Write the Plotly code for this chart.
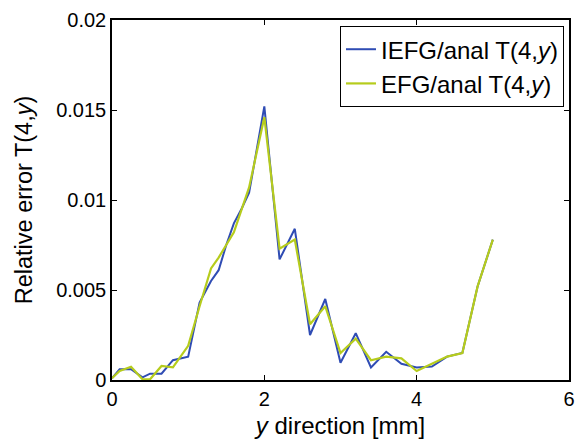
import plotly.graph_objects as go

x_iefg = [0, 0.1, 0.25, 0.4, 0.5, 0.65, 0.8, 1.0, 1.15, 1.3, 1.4, 1.5, 1.6, 1.7, 1.8, 2.0,
          2.2, 2.4, 2.6, 2.8, 3.0, 3.2, 3.4, 3.6, 3.8, 4.0, 4.2, 4.4, 4.6, 4.8, 5.0]
y_iefg = [0.0001, 0.0006, 0.0006, 0.00015, 0.00035, 0.00035, 0.0011, 0.0013, 0.0043, 0.0055,
          0.0061, 0.0075, 0.0087, 0.0095, 0.0104, 0.0152, 0.0067, 0.0084, 0.0025, 0.0045,
          0.00096, 0.0026, 0.0007, 0.00157, 0.0009, 0.0007, 0.00075, 0.0013, 0.0015, 0.0052, 0.0078]

x_efg = [0, 0.1, 0.25, 0.4, 0.5, 0.65, 0.8, 1.0, 1.15, 1.3, 1.4, 1.6, 1.8, 2.0,
         2.2, 2.4, 2.6, 2.8, 3.0, 3.2, 3.4, 3.6, 3.8, 4.0, 4.2, 4.4, 4.6, 4.8, 5.0]
y_efg = [0.0001, 0.0005, 0.00074, 0.00004, 0.00004, 0.00078, 0.0007, 0.0019, 0.0041, 0.0062,
         0.0068, 0.0082, 0.0107, 0.0146, 0.0073, 0.0078, 0.0031, 0.0041, 0.0015, 0.0023,
         0.0011, 0.0013, 0.0012, 0.0005, 0.0009, 0.0013, 0.0015, 0.0052, 0.0078]

x_ticks = [0, 2, 4, 6]
y_ticks = [0, 0.005, 0.01, 0.015, 0.02]
y_ticklabels = ["0", "0.005", "0.01", "0.015", "0.02"]

FONT = "Liberation Sans, Arial, sans-serif"

fig = go.Figure()
fig.add_trace(go.Scatter(x=x_iefg, y=y_iefg, mode="lines", name="IEFG/anal T(4,<i>y</i>)",
                         line=dict(color="#2f4cb4", width=2)))
fig.add_trace(go.Scatter(x=x_efg, y=y_efg, mode="lines", name="EFG/anal T(4,<i>y</i>)",
                         line=dict(color="#b6cc1c", width=2.2)))

axis_common = dict(showline=True, linecolor="black", linewidth=1.5, mirror="ticks",
                   ticks="inside", ticklen=5, tickwidth=1, tickcolor="black",
                   showgrid=False, zeroline=False,
                   tickfont=dict(family=FONT, size=20, color="black"))

fig.update_xaxes(range=[0, 6], tickvals=x_ticks, ticktext=[str(v) for v in x_ticks],
                 title=dict(text="<i>y</i> direction [mm]", font=dict(family=FONT, size=24, color="black"),
                            standoff=8),
                 **axis_common)
fig.update_yaxes(range=[0, 0.02], tickvals=y_ticks, ticktext=y_ticklabels,
                 title=dict(text="Relative error T(4,<i>y</i>)", font=dict(family=FONT, size=23.5, color="black"),
                            standoff=17),
                 **axis_common)

fig.update_layout(
    width=580, height=446,
    margin=dict(l=112, r=5, t=20, b=66),
    paper_bgcolor="white", plot_bgcolor="white",
    font=dict(family=FONT, color="black"),
    legend=dict(x=0.989, y=0.983, xanchor="right", yanchor="top",
                bgcolor="white", bordercolor="black", borderwidth=1,
                font=dict(family=FONT, size=24, color="black"),
                tracegroupgap=0, itemwidth=30),
    showlegend=True,
)

fig.write_html("out.html")
